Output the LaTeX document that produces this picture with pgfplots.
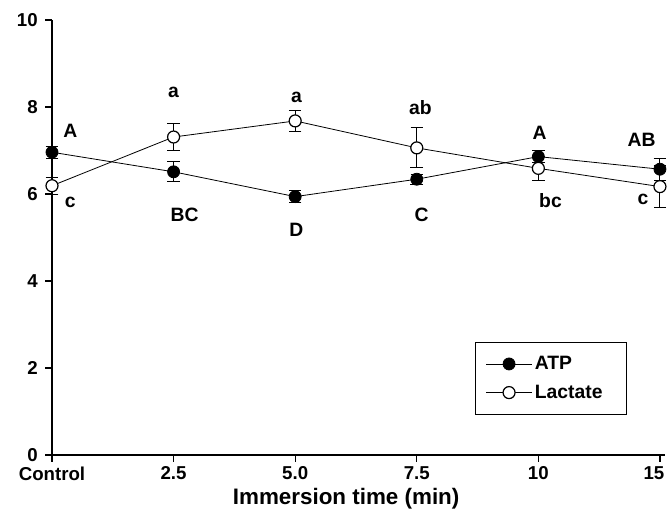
\documentclass[border=0pt]{standalone}
\usepackage{fontspec}
\setmainfont{Liberation Sans}
\usepackage{pgfplots}
\pgfplotsset{compat=1.18}

\pgfplotstableread{
x  y     e
0  6.96  0.14
1  6.51  0.23
2  5.94  0.13
3  6.34  0.12
4  6.86  0.13
5  6.57  0.25
}\atp
\pgfplotstableread{
x  y     e
0  6.19  0.19
1  7.31  0.32
2  7.68  0.25
3  7.06  0.46
4  6.59  0.28
5  6.17  0.48
}\lactate

\begin{document}
\begin{tikzpicture}
\begin{axis}[
    scale only axis,
    width=459.6pt, height=326.25pt,
    xmin=0, xmax=5.04,
    ymin=0, ymax=10,
    axis x line*=bottom,
    axis y line*=left,
    tick align=outside,
    major tick length=5pt,
    xtick={0,1,2,3,4,5},
    xticklabels={Control,2.5,5.0,7.5,10,15\hspace*{9pt}},
    ytick={0,2,4,6,8,10},
    tick label style={font=\bfseries\fontsize{14}{16}\selectfont},
    /pgf/number format/assume math mode=true,
    x tick label style={inner sep=1pt, yshift=-2.5pt},
    y tick label style={inner sep=2pt, xshift=-3.5pt},
    xlabel={Immersion time (min)},
    xlabel style={font=\bfseries\fontsize{16.8}{19}\selectfont,
        at={(axis description cs:0.48,0)}, anchor=center, yshift=-33pt},
    axis line style={line width=1.1pt},
    tick style={line width=1pt, black},
    clip=false,
    legend style={at={(axis description cs:0.69,0.26)}, anchor=north west,
        font=\bfseries\fontsize{14.5}{17}\selectfont, draw=black, line width=0.6pt,
        inner xsep=8pt, inner ysep=8.5pt, row sep=6pt},
    legend cell align=left,
    legend image code/.code={\draw[mark repeat=2,mark phase=2,#1] plot coordinates {(0cm,0cm) (0.6cm,0cm) (1.2cm,0cm)};},
]
\coordinate (bl) at (axis description cs:0,0);
\addplot[black, line width=0.6pt, mark=*, mark size=4.5pt,
    mark options={fill=black, line width=0.6pt},
    error bars/.cd, y dir=both, y explicit,
    error bar style={line width=0.7pt},
    error mark options={rotate=90, mark size=4.7pt, line width=0.7pt}]
    table[x=x, y=y, y error=e] {\atp};
\addlegendentry{ATP}
\addplot[black, line width=0.6pt, mark=*, mark size=4.5pt,
    mark options={fill=white, line width=0.9pt},
    error bars/.cd, y dir=both, y explicit,
    error bar style={line width=0.7pt},
    error mark options={rotate=90, mark size=4.7pt, line width=0.7pt}]
    table[x=x, y=y, y error=e] {\lactate};
\addlegendentry{Lactate\hspace*{8pt}}

\begin{scope}[every node/.style={font=\bfseries\fontsize{14.5}{17}\selectfont}]
\node at (axis cs:0.15,7.45) {A};
\node at (axis cs:0.15,5.8) {c};
\node at (axis cs:1.09,5.52) {BC};
\node at (axis cs:1.0,8.34) {a};
\node at (axis cs:2.01,8.23) {a};
\node at (axis cs:3.03,7.99) {ab};
\node at (axis cs:2.01,5.18) {D};
\node at (axis cs:3.04,5.51) {C};
\node at (axis cs:4.01,7.4) {A};
\node at (axis cs:4.1,5.85) {bc};
\node at (axis cs:4.85,7.24) {AB};
\node at (axis cs:4.86,5.88) {c};
\end{scope}
\end{axis}
\pgfresetboundingbox
\path (bl) ++(-39pt,-48pt) rectangle ++(501pt,389.25pt);
\end{tikzpicture}
\end{document}
